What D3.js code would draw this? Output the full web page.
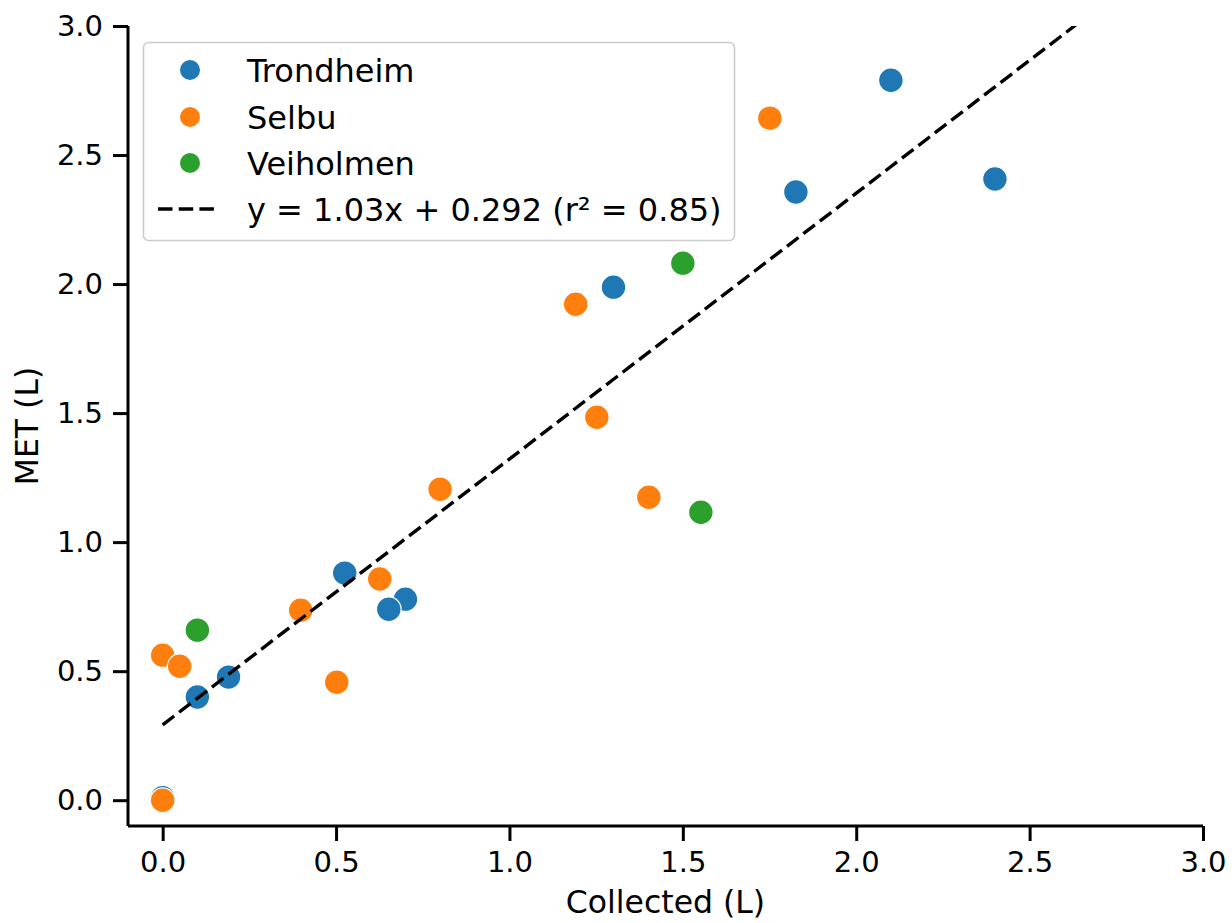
<!DOCTYPE html>
<html>
<head>
<meta charset="utf-8">
<script src="https://cdn.jsdelivr.net/npm/d3@7"></script>
<style>
  html, body { margin: 0; padding: 0; background: #fff; }
  svg { display: block; font-family: "DejaVu Sans", sans-serif; }
</style>
</head>
<body>
<svg id="chart" width="1232" height="923"></svg>
<script>
// ---- data ----
const seriesNames = ["Trondheim", "Selbu", "Veiholmen"];
const seriesColors = ["#1f77b4", "#ff7f0e", "#2ca02c"];

const trondheimX = [0.0, 0.10, 0.19, 0.525, 0.70, 0.652, 1.30, 1.826, 2.10, 2.40];
const trondheimY = [0.01, 0.40, 0.477, 0.88, 0.779, 0.74, 1.988, 2.357, 2.79, 2.407];

const selbuX = [0.0, 0.0, 0.049, 0.398, 0.502, 0.626, 0.80, 1.191, 1.252, 1.402, 1.751];
const selbuY = [0.0, 0.562, 0.519, 0.736, 0.457, 0.857, 1.205, 1.922, 1.484, 1.174, 2.643];

const veiholmenX = [0.10, 1.50, 1.552];
const veiholmenY = [0.659, 2.081, 1.116];

const fitSlope = 1.03;
const fitIntercept = 0.292;
const fitLabel = "y = 1.03x + 0.292 (r\u00b2 = 0.85)";
const fitRange = [0.0, 3.0];

const xTicks = [0.0, 0.5, 1.0, 1.5, 2.0, 2.5, 3.0];
const yTicks = [0.0, 0.5, 1.0, 1.5, 2.0, 2.5, 3.0];
const xLabel = "Collected (L)";
const yLabel = "MET (L)";

// ---- layout ----
const svg = d3.select("#chart");
const pL = 128, pR = 1203, pT = 26, pB = 826;
const x = d3.scaleLinear().domain([-0.1, 3.0]).range([pL, pR]);
const y = d3.scaleLinear().domain([-0.1, 3.0]).range([pB, pT]);

const series = [
  { name: seriesNames[0], color: seriesColors[0], xs: trondheimX, ys: trondheimY },
  { name: seriesNames[1], color: seriesColors[1], xs: selbuX, ys: selbuY },
  { name: seriesNames[2], color: seriesColors[2], xs: veiholmenX, ys: veiholmenY }
];

svg.append("defs").append("clipPath").attr("id", "plotclip")
  .append("rect").attr("x", pL).attr("y", pT)
  .attr("width", pR - pL).attr("height", pB - pT);

// points
const pts = svg.append("g");
series.forEach(s => {
  const data = s.xs.map((v, i) => ({ x: v, y: s.ys[i] }));
  pts.selectAll(null).data(data).enter().append("circle")
    .attr("cx", d => x(d.x)).attr("cy", d => y(d.y))
    .attr("r", 12.3)
    .attr("fill", s.color)
    .attr("stroke", "#fff").attr("stroke-width", 1.2);
});

// fit line
const dash = "14.5,6.2";
const fitData = fitRange.map(v => ({ x: v, y: fitSlope * v + fitIntercept }));
svg.append("g").attr("clip-path", "url(#plotclip)")
  .append("path")
  .datum(fitData)
  .attr("d", d3.line().x(d => x(d.x)).y(d => y(d.y)))
  .attr("fill", "none").attr("stroke", "#000")
  .attr("stroke-width", 3.4).attr("stroke-dasharray", dash);

// axes
const tickFmt = d3.format(".1f");
const xAxis = svg.append("g").attr("transform", `translate(0,${pB})`)
  .call(d3.axisBottom(x).tickValues(xTicks).tickFormat(tickFmt).tickSize(15).tickPadding(10).tickSizeOuter(0));
const yAxis = svg.append("g").attr("transform", `translate(${pL},0)`)
  .call(d3.axisLeft(y).tickValues(yTicks).tickFormat(tickFmt).tickSize(15).tickPadding(10).tickSizeOuter(0));

[xAxis, yAxis].forEach(a => {
  a.select(".domain").attr("stroke", "#000").attr("stroke-width", 3);
  a.selectAll(".tick line").attr("stroke", "#000").attr("stroke-width", 3);
  a.selectAll(".tick text").attr("fill", "#000")
    .style("font-family", "DejaVu Sans").style("font-size", "29px");
});
xAxis.select(".domain").attr("d", `M${pL},0H${pR}`);
yAxis.select(".domain").attr("d", `M0,${pB}V${pT}`);

svg.append("text").attr("x", (pL + pR) / 2).attr("y", 913)
  .attr("text-anchor", "middle").style("font-size", "31.5px").text(xLabel);
svg.append("text")
  .attr("transform", `translate(38,${(pT + pB) / 2}) rotate(-90)`)
  .attr("text-anchor", "middle").style("font-size", "31.5px").text(yLabel);

// legend
const lg = svg.append("g");
lg.append("rect").attr("x", 143.5).attr("y", 42.5).attr("width", 591).attr("height", 198)
  .attr("rx", 5).attr("fill", "#fff").attr("fill-opacity", 0.8)
  .attr("stroke", "#cccccc").attr("stroke-width", 1.6);
const rowY = [70, 117, 163, 209];
series.forEach((s, i) => {
  lg.append("circle").attr("cx", 190).attr("cy", rowY[i]).attr("r", 10).attr("fill", s.color);
  lg.append("text").attr("x", 247).attr("y", rowY[i]).attr("dy", "0.36em")
    .style("font-size", "32px").text(s.name);
});
lg.append("line").attr("x1", 158).attr("x2", 220).attr("y1", rowY[3]).attr("y2", rowY[3])
  .attr("stroke", "#000").attr("stroke-width", 3.4).attr("stroke-dasharray", dash);
lg.append("text").attr("x", 247).attr("y", rowY[3]).attr("dy", "0.36em")
  .style("font-size", "32px").text(fitLabel);
</script>
</body>
</html>
